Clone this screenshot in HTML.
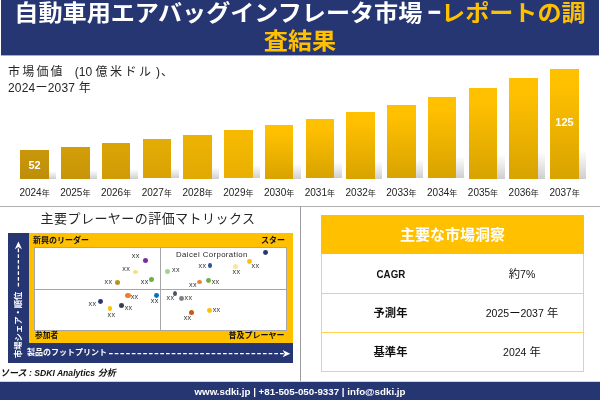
<!DOCTYPE html>
<html lang="ja"><head><meta charset="utf-8"><title>自動車用エアバッグインフレータ市場</title>
<style>
*{margin:0;padding:0;box-sizing:border-box}
html,body{width:600px;height:400px;overflow:hidden;background:#fff}
body{position:relative;font-family:"Liberation Sans","Noto Sans CJK JP",sans-serif;color:#222}
.abs{position:absolute}
#hdr{position:absolute;left:1px;top:0;width:598px;height:55px;background:#263673;color:#fff;text-align:center;font-weight:bold;font-size:22.5px;line-height:28px;font-family:"Noto Sans CJK JP","Liberation Sans",sans-serif;padding-top:0px;white-space:nowrap;overflow:hidden}
#hdr span{color:#FFC000}
.dash{position:relative;top:-1.8px;-webkit-text-stroke:.7px #fff}
.ls{letter-spacing:2.2px}
#sub{position:absolute;left:8px;top:65px;font-size:12px;line-height:15.5px;color:#262626;font-family:"Liberation Sans","Noto Sans CJK JP",sans-serif}
.bar{position:absolute}
.bar:after{content:'';position:absolute;left:100%;bottom:0;width:7.5px;height:27%;background:linear-gradient(to top,rgba(60,60,60,.25),rgba(60,60,60,.13) 45%,rgba(60,60,60,0));filter:blur(.7px)}
.yl{position:absolute;top:186.6px;width:40px;text-align:center;font-size:10px;line-height:12px;color:#222;white-space:nowrap}
.yl span{font-size:8px}
.val{position:absolute;color:#fff;font-weight:bold;font-size:11px;line-height:12px;width:40px;text-align:center}

#mt{position:absolute;left:-2px;top:209px;width:300px;text-align:center;font-size:13px;line-height:20px;color:#262626;letter-spacing:.45px}
.q{position:absolute;font-size:8px;line-height:12px;font-weight:bold;color:#111;white-space:nowrap}
#vt{position:absolute;left:13px;top:357.5px;width:0;height:0;white-space:nowrap;color:#fff;font-weight:bold;font-size:8.3px;line-height:10px}
#vt{transform:rotate(-90deg)}
#ht{position:absolute;left:27px;top:347px;color:#fff;font-weight:bold;font-size:8px;line-height:12px;white-space:nowrap}
#dc{position:absolute;left:176px;top:250px;font-size:7.8px;line-height:10px;color:#262626;letter-spacing:.4px;white-space:nowrap}
.d{position:absolute;border-radius:50%;display:block}
.xx{position:absolute;width:12px;text-align:center;font-size:7.2px;line-height:10px;color:#333;letter-spacing:.35px}
#src .l{font-size:8.6px}
#src{position:absolute;left:0px;top:366px;font-size:9px;line-height:14px;font-weight:bold;font-style:italic;color:#111;white-space:nowrap}
.n{display:inline-block;font-size:11.5px;transform:scaleX(.85)}
.tv .l{font-size:10.5px}
.tk{position:absolute;left:321px;width:139px;height:39px;line-height:41.4px;text-align:center;font-size:11.3px;font-weight:bold;color:#111}
.tv{position:absolute;left:462px;width:120px;height:39px;line-height:41.8px;text-align:center;font-size:11.3px;color:#111}
#ftr{position:absolute;left:0;top:382px;width:600px;height:18px;background:#263673;color:#fff;font-weight:bold;font-size:9.75px;line-height:19px;text-align:center;white-space:nowrap}
</style></head><body>
<div id="hdr"><div style="margin-top:-3px;transform:scaleX(1.071);transform-origin:299px 0">自動車用エアバッグインフレータ市場 <b class="dash">–</b><span>レポートの調<br>査結果</span></div></div>
<div class="abs" style="left:1px;top:55px;width:598px;height:1px;background:#a8afc7"></div>
<div id="sub"><span class="ls">市場価値</span> &nbsp;<span style="margin-left:3.3px">(10</span> <span class="ls" style="letter-spacing:2.5px">億米ドル</span><span style="margin-left:2.5px">)</span><span style="margin-left:1px">、</span><br><span style="letter-spacing:.2px">2024ー2037 年</span></div>
<div class="bar" style="left:20.25px;top:150px;width:28.5px;height:28.5px;background:linear-gradient(180deg,rgb(200,150,10) 0%,rgb(200,150,10) 15%,rgb(190,142,9) 100%)"></div>
<div class="bar" style="left:61.02px;top:147px;width:28.5px;height:31.5px;background:linear-gradient(180deg,rgb(209,157,8) 0%,rgb(209,157,8) 15%,rgb(198,149,7) 100%)"></div>
<div class="bar" style="left:101.79px;top:143px;width:28.5px;height:35.5px;background:linear-gradient(180deg,rgb(218,164,6) 0%,rgb(218,164,6) 15%,rgb(207,155,6) 100%)"></div>
<div class="bar" style="left:142.56px;top:139.2px;width:28.5px;height:39.3px;background:linear-gradient(180deg,rgb(227,171,5) 0%,rgb(227,171,5) 15%,rgb(216,162,4) 100%)"></div>
<div class="bar" style="left:183.33px;top:135px;width:28.5px;height:43.5px;background:linear-gradient(180deg,rgb(236,178,3) 0%,rgb(236,178,3) 15%,rgb(224,169,3) 100%)"></div>
<div class="bar" style="left:224.10px;top:130.2px;width:28.5px;height:48.3px;background:linear-gradient(180deg,rgb(245,185,1) 0%,rgb(245,185,1) 15%,rgb(233,175,1) 100%)"></div>
<div class="bar" style="left:264.87px;top:125px;width:28.5px;height:53.5px;background:linear-gradient(180deg,rgb(255,192,0) 0%,rgb(255,192,0) 15%,rgb(216,163,0) 100%)"></div>
<div class="bar" style="left:305.64px;top:118.7px;width:28.5px;height:59.8px;background:linear-gradient(180deg,rgb(255,192,0) 0%,rgb(255,192,0) 15%,rgb(216,163,0) 100%)"></div>
<div class="bar" style="left:346.41px;top:112px;width:28.5px;height:66.5px;background:linear-gradient(180deg,rgb(255,192,0) 0%,rgb(255,192,0) 15%,rgb(216,163,0) 100%)"></div>
<div class="bar" style="left:387.18px;top:104.8px;width:28.5px;height:73.7px;background:linear-gradient(180deg,rgb(255,192,0) 0%,rgb(255,192,0) 15%,rgb(216,163,0) 100%)"></div>
<div class="bar" style="left:427.95px;top:96.7px;width:28.5px;height:81.8px;background:linear-gradient(180deg,rgb(255,192,0) 0%,rgb(255,192,0) 15%,rgb(216,163,0) 100%)"></div>
<div class="bar" style="left:468.72px;top:88px;width:28.5px;height:90.5px;background:linear-gradient(180deg,rgb(255,192,0) 0%,rgb(255,192,0) 15%,rgb(216,163,0) 100%)"></div>
<div class="bar" style="left:509.49px;top:78px;width:28.5px;height:100.5px;background:linear-gradient(180deg,rgb(255,192,0) 0%,rgb(255,192,0) 15%,rgb(216,163,0) 100%)"></div>
<div class="bar" style="left:550.26px;top:69px;width:28.5px;height:109.5px;background:linear-gradient(180deg,rgb(255,192,0) 0%,rgb(255,192,0) 15%,rgb(216,163,0) 100%)"></div>
<div class="yl" style="left:14.50px">2024<span>年</span></div>
<div class="yl" style="left:55.27px">2025<span>年</span></div>
<div class="yl" style="left:96.04px">2026<span>年</span></div>
<div class="yl" style="left:136.81px">2027<span>年</span></div>
<div class="yl" style="left:177.58px">2028<span>年</span></div>
<div class="yl" style="left:218.35px">2029<span>年</span></div>
<div class="yl" style="left:259.12px">2030<span>年</span></div>
<div class="yl" style="left:299.89px">2031<span>年</span></div>
<div class="yl" style="left:340.66px">2032<span>年</span></div>
<div class="yl" style="left:381.43px">2033<span>年</span></div>
<div class="yl" style="left:422.20px">2034<span>年</span></div>
<div class="yl" style="left:462.97px">2035<span>年</span></div>
<div class="yl" style="left:503.74px">2036<span>年</span></div>
<div class="yl" style="left:544.51px">2037<span>年</span></div>
<div class="val" style="left:14.50px;top:159.2px">52</div>
<div class="val" style="left:544.51px;top:116px">125</div>

<div class="abs" style="left:0;top:206px;width:600px;height:1px;background:#b0b0b0"></div>
<div class="abs" style="left:300px;top:206px;width:1px;height:176px;background:#9c9ca2"></div>
<div id="mt">主要プレーヤーの評価マトリックス</div>
<div class="abs" style="left:8px;top:233px;width:285px;height:130px;background:#263673"></div>
<div class="abs" style="left:29px;top:233px;width:264px;height:110px;background:#FFC000"></div>
<div class="abs" style="left:34px;top:247px;width:253px;height:84px;background:#fff;border:1px solid #a6a6a6"></div>
<div class="abs" style="left:160px;top:248px;width:1px;height:83px;background:#a6a6a6"></div>
<div class="abs" style="left:35px;top:289px;width:251px;height:1px;background:#a6a6a6"></div>
<div class="q" style="left:33px;top:234.8px">新興のリーダー</div>
<div class="q" style="left:235px;top:235px;width:50px;text-align:right">スター</div>
<div class="q" style="left:35px;top:329.5px;font-size:7.7px">参加者</div>
<div class="q" style="left:204.5px;top:329.5px;width:80px;text-align:right">普及プレーヤー</div>
<div id="vt">市場シェア・順位</div>
<div id="ht">製品のフットプリント</div>
<svg class="abs" style="left:8px;top:233px" width="285" height="130" viewBox="0 0 285 130">
<line x1="10.4" y1="15.5" x2="10.4" y2="55" stroke="#fff" stroke-width="1.3" stroke-dasharray="3.7 2"/>
<path d="M10.4 8.6 L14 16.2 L10.4 14 L6.8 16.2 Z" fill="#fff"/>
<line x1="101" y1="120.7" x2="276" y2="120.7" stroke="#fff" stroke-width="1.3" stroke-dasharray="3.7 2"/>
<path d="M282.3 120.7 L274.6 117.1 L276.8 120.7 L274.6 124.3 Z" fill="#fff"/>
</svg>
<div id="dc">Daicel Corporation</div>
<i class="d" style="left:142.6px;top:257.8px;width:5.4px;height:4.8px;background:#7030A0"></i>
<span class="xx" style="left:129.8px;top:251.2px">xx</span>
<i class="d" style="left:132.7px;top:269.7px;width:5.2px;height:4.4px;background:#F2E27A"></i>
<span class="xx" style="left:120.3px;top:264.0px">xx</span>
<i class="d" style="left:148.7px;top:276.9px;width:5.6px;height:5.2px;background:#70AD47"></i>
<span class="xx" style="left:138.8px;top:277.3px">xx</span>
<i class="d" style="left:114.8px;top:280.0px;width:5.4px;height:5.0px;background:#B8901A"></i>
<span class="xx" style="left:102.4px;top:277.3px">xx</span>
<i class="d" style="left:164.7px;top:268.9px;width:5.4px;height:5.0px;background:#A9D18E"></i>
<span class="xx" style="left:169.9px;top:265.2px">xx</span>
<i class="d" style="left:125.4px;top:293.0px;width:5.6px;height:5.2px;background:#ED7D31"></i>
<span class="xx" style="left:128.6px;top:292.0px">xx</span>
<i class="d" style="left:153.7px;top:293.0px;width:5.4px;height:5.2px;background:#0070C0"></i>
<span class="xx" style="left:148.8px;top:296.1px">xx</span>
<i class="d" style="left:97.7px;top:299.0px;width:5.4px;height:5.2px;background:#263673"></i>
<span class="xx" style="left:86.5px;top:299.0px">xx</span>
<i class="d" style="left:118.8px;top:302.9px;width:5.4px;height:5.0px;background:#333F50"></i>
<span class="xx" style="left:122.6px;top:303.2px">xx</span>
<i class="d" style="left:107.7px;top:305.8px;width:4.8px;height:5.4px;background:#FFC000"></i>
<span class="xx" style="left:105.5px;top:310.1px">xx</span>
<i class="d" style="left:262.7px;top:249.9px;width:5.2px;height:5.0px;background:#263673"></i>
<i class="d" style="left:246.7px;top:259.0px;width:5.4px;height:5.2px;background:#FFC000"></i>
<span class="xx" style="left:249.5px;top:260.9px">xx</span>
<i class="d" style="left:233.0px;top:263.5px;width:5.2px;height:5.2px;background:#FBE5A0"></i>
<span class="xx" style="left:230.5px;top:267.1px">xx</span>
<i class="d" style="left:207.7px;top:262.8px;width:4.4px;height:5.2px;background:#2F5597"></i>
<span class="xx" style="left:196.5px;top:260.9px">xx</span>
<i class="d" style="left:205.8px;top:278.0px;width:5.4px;height:5.2px;background:#70AD47"></i>
<span class="xx" style="left:209.6px;top:277.3px">xx</span>
<i class="d" style="left:196.6px;top:279.9px;width:5.6px;height:4.4px;background:#ED7D31"></i>
<span class="xx" style="left:187.0px;top:279.7px">xx</span>
<i class="d" style="left:172.8px;top:290.7px;width:4.4px;height:5.6px;background:#44546A"></i>
<span class="xx" style="left:164.5px;top:292.8px">xx</span>
<i class="d" style="left:178.8px;top:295.8px;width:5.4px;height:5.2px;background:#7F7F7F"></i>
<span class="xx" style="left:182.5px;top:292.8px">xx</span>
<i class="d" style="left:188.7px;top:309.8px;width:5.4px;height:5.4px;background:#C55A11"></i>
<span class="xx" style="left:181.6px;top:312.7px">xx</span>
<i class="d" style="left:206.7px;top:307.8px;width:5.4px;height:5.2px;background:#FFC000"></i>
<span class="xx" style="left:210.6px;top:304.9px">xx</span>
<div id="src">ソース <span class="l">: SDKI Analytics</span> 分析</div>
<div class="abs" style="left:321px;top:215px;width:263px;height:39px;background:#FFC000;color:#fff;text-align:center;font-size:15px;line-height:40.6px;font-weight:bold">主要な市場洞察</div>
<div class="abs" style="left:321px;top:254px;width:263px;height:118px;border:1px solid #FFD24D;border-top:none"></div>
<div class="abs" style="left:321px;top:293px;width:263px;height:1px;background:#FFD24D"></div>
<div class="abs" style="left:321px;top:332px;width:263px;height:1px;background:#FFD24D"></div>
<div class="tk" style="top:254px"><span class="n">CAGR</span></div><div class="tv" style="top:254px">約<span class="l">7%</span></div>
<div class="tk" style="top:293px">予測年</div><div class="tv" style="top:293px"><span class="l">2025</span>ー<span class="l">2037</span> 年</div>
<div class="tk" style="top:332px">基準年</div><div class="tv" style="top:332px"><span class="l">2024</span> 年</div>
<div class="abs" style="left:0;top:381px;width:600px;height:1px;background:#d0d4e1"></div>
<div id="ftr">www.sdki.jp | +81-505-050-9337 | info@sdki.jp</div>

</body></html>
